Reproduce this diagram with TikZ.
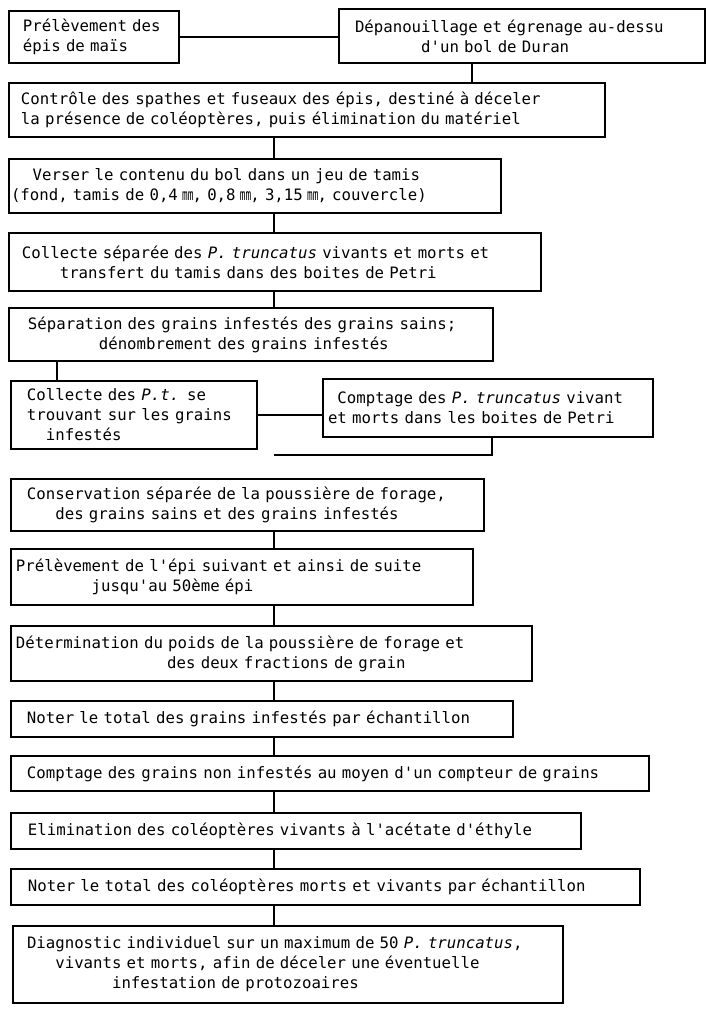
\documentclass[tikz,border=0pt]{standalone}
\usepackage{fontspec}
\usepackage{graphicx}
\usepackage{tikz}
\usetikzlibrary{positioning,calc}

\newfontfamily\typefont{DejaVu Sans Mono}
\newcommand{\ind}[1]{\hspace*{#1\dimexpr0.602em\relax}}
\newcommand{\mmu}{\makebox[0.602em][c]{\scalebox{0.6}[1]{mm}}}

\begin{document}
\begin{tikzpicture}[x=1pt,y=-1pt,
		stepbox/.style={draw, line width=2pt, anchor=north west, align=left,
			inner xsep=0pt, inner ysep=0pt,
			font=\typefont\fontsize{15.7}{20}\selectfont,
			execute at begin node={\leftskip=#1pt\relax}},
		link/.style={line width=2pt}]
		\useasboundingbox (0,0) rectangle (705,1009);

		\coordinate (spine) at (274,0);
		\coordinate (lft) at (57,0);
		\coordinate (tap) at (492,455);

		\node[stepbox=14, text width=170pt, minimum height=52pt] (pick) at (8,10)
			{Prélèvement des\\épis de maïs};
		\node[stepbox=16, text width=366pt, minimum height=54pt] (husk) at (338,8)
			{Dépanouillage et égrenage au-dessu\\\ind{7}d'un bol de Duran};
		\node[stepbox=12, text width=596pt, minimum height=54pt] (spathe) at (8,82)
			{Contrôle des spathes et fuseaux des épis, destiné à déceler\\la présence de coléoptères, puis élimination du matériel};
		\node[stepbox=2, text width=492pt, minimum height=54pt] (sieve) at (8,158)
			{\ind{2.3}Verser le contenu du bol dans un jeu de tamis\\(fond, tamis de 0,4 \mmu, 0,8 \mmu, 3,15 \mmu, couvercle)};
		\node[stepbox=13, text width=532pt, minimum height=58pt] (petri) at (8,232)
			{Collecte séparée des \textit{P. truncatus} vivants et morts et\\\ind{4}transfert du tamis dans des boites de Petri};
		\node[stepbox=19, text width=484pt, minimum height=53pt] (sort) at (8,307)
			{Séparation des grains infestés des grains sains;\\\ind{7.5}dénombrement des grains infestés};
		\node[stepbox=16, text width=246pt, minimum height=68pt] (ptcoll) at (10,380)
			{Collecte des \textit{P.t.} se\\trouvant sur les grains\\\ind{2}infestés};
		\node[stepbox=5, text width=330pt, minimum height=58pt] (ptcount) at (322,378)
			{\ind{1}Comptage des \textit{P. truncatus} vivant\\et morts dans les boites de Petri};
		\node[stepbox=16, text width=473pt, minimum height=52pt] (store) at (10,478)
			{Conservation séparée de la poussière de forage,\\\ind{3}des grains sains et des grains infestés};
		\node[stepbox=5, text width=462pt, minimum height=56pt] (nextear) at (10,548)
			{Prélèvement de l'épi suivant et ainsi de suite\\\ind{8}jusqu'au 50ème épi};
		\node[stepbox=5, text width=521pt, minimum height=55pt] (weigh) at (10,625)
			{Détermination du poids de la poussière de forage et\\\ind{16}des deux fractions de grain};
		\node[stepbox=16, text width=502pt, minimum height=36pt] (noteinf) at (10,700)
			{Noter le total des grains infestés par échantillon};
		\node[stepbox=16, text width=638pt, minimum height=35pt] (countsound) at (10,755)
			{Comptage des grains non infestés au moyen d'un compteur de grains};
		\node[stepbox=17, text width=570pt, minimum height=36pt] (kill) at (10,812)
			{Elimination des coléoptères vivants à l'acétate d'éthyle};
		\node[stepbox=17, text width=629pt, minimum height=36pt] (notebeetle) at (10,868)
			{Noter le total des coléoptères morts et vivants par échantillon};
		\node[stepbox=14, text width=550pt, minimum height=77pt] (diag) at (12,925)
			{Diagnostic individuel sur un maximum de 50 \textit{P. truncatus},\\\ind{3}vivants et morts, afin de déceler une éventuelle\\\ind{9}infestation de protozoaires};

		% connectors
		\draw[link] (pick.east) -- (pick.east -| husk.west);
		\draw[link] ([xshift=-50pt]husk.south) -- ([xshift=-50pt]husk.south |- spathe.north);
		\draw[link] (spathe.south -| spine) -- (sieve.north -| spine);
		\draw[link] (sieve.south -| spine) -- (petri.north -| spine);
		\draw[link] (petri.south -| spine) -- (sort.north -| spine);
		\draw[link] (sort.south -| lft) -- (ptcoll.north -| lft);
		\draw[link] (ptcoll.east) -- (ptcoll.east -| ptcount.west);
		\draw[link] (ptcount.south -| tap) -- (tap) -- (tap -| spine);
		\draw[link] (store.south -| spine) -- (nextear.north -| spine);
		\draw[link] (nextear.south -| spine) -- (weigh.north -| spine);
		\draw[link] (weigh.south -| spine) -- (noteinf.north -| spine);
		\draw[link] (noteinf.south -| spine) -- (countsound.north -| spine);
		\draw[link] (countsound.south -| spine) -- (kill.north -| spine);
		\draw[link] (kill.south -| spine) -- (notebeetle.north -| spine);
		\draw[link] (notebeetle.south -| spine) -- (diag.north -| spine);
	\end{tikzpicture}
\end{document}
